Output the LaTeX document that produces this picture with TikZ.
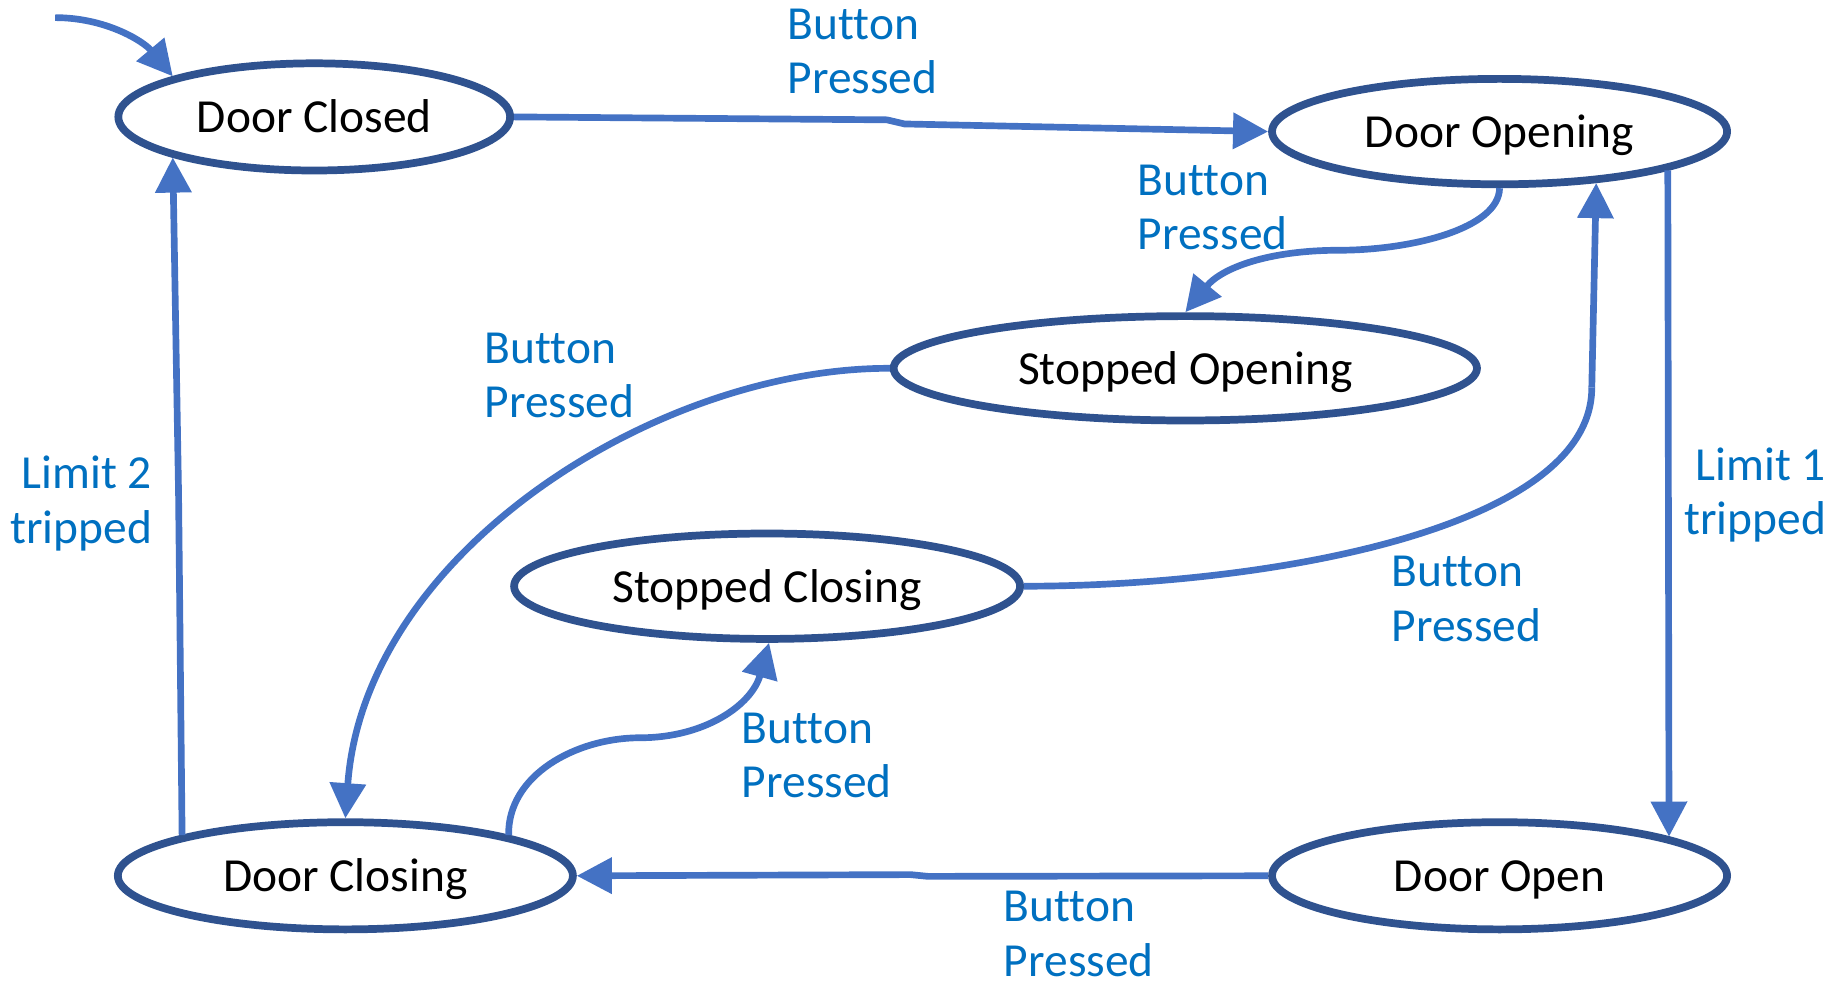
\documentclass[tikz,border=0pt]{standalone}
\usepackage{fontspec}
\setmainfont{Carlito}[Ligatures=NoCommon,Contextuals=NoAlternate]
\usetikzlibrary{arrows.meta,shapes.geometric,calc}
\definecolor{stateline}{HTML}{2F528F}
\definecolor{arrowblue}{HTML}{4472C4}
\definecolor{labelblue}{HTML}{0070C0}
\tikzset{
  state/.style={ellipse,draw=stateline,line width=2.2pt,fill=white,inner sep=0pt,
    text height=9pt,text depth=0pt,
    font=\fontsize{13.5}{16}\selectfont,text=black},
  trans/.style={draw=arrowblue,line width=1.9pt,-{Triangle[length=10pt,width=10pt]}},
  plainline/.style={draw=arrowblue,line width=1.9pt},
  lbl/.style={text=labelblue,inner sep=0pt,font=\fontsize{13.5}{15.5}\selectfont},
}
\begin{document}
\begin{tikzpicture}[x=0.011747cm,y=-0.011747cm]
\useasboundingbox (0,0) rectangle (1568,837);

% states
\node[state,minimum width=111.5pt,minimum height=30.5pt] (DC) at (267.5,99.5) {Door Closed};
\node[state,minimum width=129.5pt,minimum height=30pt] (DO) at (1276.5,112) {Door Opening};
\node[state,minimum width=166pt,minimum height=29.7pt] (SO) at (1009,313.5) {Stopped Opening};
\node[state,minimum width=144pt,minimum height=30pt] (SC) at (653,499) {Stopped Closing};
\node[state,minimum width=129.5pt,minimum height=30.5pt] (DCl) at (294,745.5) {Door Closing};
\node[state,minimum width=129.5pt,minimum height=30.5pt] (DOp) at (1276.5,745.5) {Door Open};

% initial transition
\coordinate (init) at (47,15);
\draw[trans] (init) .. controls (90,15) and (122,35) .. (DC.164);

% Door Closed -> Door Opening
\draw[trans] (DC.east) -- (755,102) -- (770,105.5) -- (DO.west);
\node[lbl,anchor=west,align=left] (l1) at (670,44) {Button\\Pressed};

% Door Opening -> Stopped Opening
\draw[trans] (DO.south) .. controls (1276,195) and (1200,213) .. (1140,213)
  .. controls (1080,213) and (1040,228) .. (SO.north);
\node[lbl,anchor=west,align=left] (l2) at (968,176.5) {Button\\Pressed};

% Stopped Opening -> Door Closing
\draw[trans] (SO.west) .. controls (560,313) and (310,470) .. (DCl.north);
\node[lbl,anchor=west,align=left] (l3) at (412,319.5) {Button\\Pressed};

% Stopped Closing -> Door Opening
\coordinate (bend5) at (1355,330);
\draw[plainline] (SC.east) .. controls (1080,499) and (1355,450) .. (bend5);
\draw[trans] (bend5) -- (DO.-28);
\node[lbl,anchor=west,align=left] (l5) at (1184,510) {Button\\Pressed};

% Door Opening -> Door Open
\draw[trans] (DO.-13.5) -- (DOp.13.7);
\node[lbl,anchor=east,align=right] (l4) at (1555,421.5) {Limit 1\\tripped};

% Door Open -> Door Closing
\draw[trans] (DOp.west) -- (790,746) -- (775,744.5) -- (DCl.east);
\node[lbl,anchor=west,align=left] (l7) at (854,795) {Button\\Pressed};

% Door Closing -> Door Closed
\draw[trans] (DCl.166) -- (152,420) -- (DC.-164);
\node[lbl,anchor=east,align=right] (l8) at (130,428.5) {Limit 2\\tripped};

% Door Closing -> Stopped Closing
\draw[trans] (DCl.14) .. controls (432,660) and (490,628) .. (545,628)
  .. controls (600,628) and (640,600) .. (SC.-88);
\node[lbl,anchor=west,align=left] (l6) at (631,643) {Button\\Pressed};
\end{tikzpicture}
\end{document}
